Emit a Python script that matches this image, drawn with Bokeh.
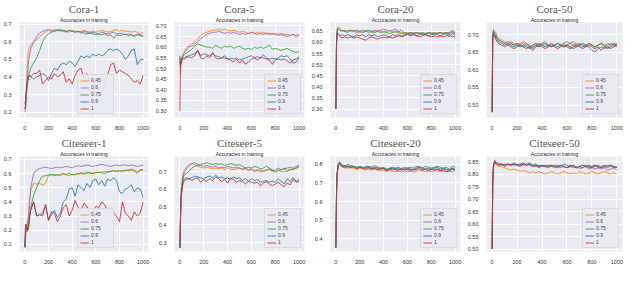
from bokeh.plotting import figure
from bokeh.layouts import gridplot
from bokeh.models import Range1d, Title, FixedTicker, PrintfTickFormatter
from bokeh.embed import file_html
from bokeh.resources import INLINE

EPOCHS = [0, 5, 10, 20, 30, 40, 50, 75, 100,
          125, 150, 175, 200, 225, 250, 275, 300, 325,
          350, 375, 400, 425, 450, 475, 500, 525, 550,
          575, 600, 625, 650, 675, 700, 725, 750, 775,
          800, 825, 850, 875, 900, 925, 950, 975, 1000]
RATES = ["0.45", "0.6", "0.75", "0.9", "1"]
X_TICKS = [0, 200, 400, 600, 800, 1000]

# ---------------- Cora-1 ----------------
cora1_045 = [0.21, 0.22, 0.30, 0.45, 0.55, 0.57, 0.585, 0.60, 0.61,
             0.63, 0.645, 0.655, 0.665, 0.66, 0.67, 0.665, 0.66, 0.665,
             0.66, 0.655, 0.665, 0.66, 0.655, 0.66, 0.665, 0.66, 0.655,
             0.66, 0.655, 0.66, 0.665, 0.66, 0.655, 0.66, 0.665, 0.67,
             0.66, 0.665, 0.66, 0.66, 0.655, 0.66, 0.655, 0.645, 0.655]
cora1_06 = [0.20, 0.21, 0.25, 0.38, 0.47, 0.53, 0.56, 0.60, 0.63,
            0.65, 0.66, 0.665, 0.67, 0.665, 0.66, 0.67, 0.665, 0.66,
            0.655, 0.665, 0.66, 0.655, 0.66, 0.65, 0.66, 0.655, 0.65,
            0.655, 0.65, 0.645, 0.655, 0.65, 0.645, 0.65, 0.655, 0.645,
            0.65, 0.645, 0.64, 0.645, 0.64, 0.635, 0.645, 0.64, 0.635]
cora1_075 = [0.22, 0.23, 0.28, 0.35, 0.40, 0.43, 0.45, 0.48, 0.51,
             0.55, 0.60, 0.63, 0.645, 0.655, 0.66, 0.665, 0.67, 0.665,
             0.66, 0.665, 0.66, 0.655, 0.66, 0.655, 0.65, 0.645, 0.65,
             0.645, 0.64, 0.645, 0.64, 0.645, 0.635, 0.64, 0.62, 0.64,
             0.635, 0.64, 0.645, 0.635, 0.64, 0.63, 0.64, 0.635, 0.63]
cora1_09 = [0.22, 0.24, 0.30, 0.36, 0.40, 0.41, 0.40, 0.39, 0.40,
            0.41, 0.42, 0.41, 0.38, 0.42, 0.45, 0.44, 0.47, 0.48,
            0.47, 0.49, 0.48, 0.46, 0.49, 0.52, 0.51, 0.52, 0.51,
            0.53, 0.52, 0.53, 0.52, 0.53, 0.55, 0.56, 0.55, 0.56,
            0.55, 0.53, 0.50, 0.52, 0.55, 0.56, 0.47, 0.50, 0.50]
cora1_1 = [0.26, 0.24, 0.30, 0.37, 0.40, 0.41, 0.40, 0.42, 0.42,
           0.44, 0.36, 0.38, 0.40, 0.39, 0.42, 0.40, 0.41, 0.43,
           0.37, 0.39, 0.36, 0.41, 0.44, 0.45, 0.39, 0.42, 0.37,
           0.38, 0.35, 0.33, 0.30, 0.36, 0.41, 0.47, 0.48, 0.42,
           0.44, 0.43, 0.42, 0.41, 0.39, 0.37, 0.38, 0.36, 0.41]
cora1_yticks = [0.2, 0.3, 0.4, 0.5, 0.6, 0.7]

# ---------------- Cora-5 ----------------
cora5_045 = [0.56, 0.47, 0.54, 0.56, 0.57, 0.58, 0.595, 0.605, 0.615,
             0.625, 0.64, 0.655, 0.665, 0.67, 0.675, 0.68, 0.68, 0.685,
             0.68, 0.685, 0.68, 0.675, 0.68, 0.675, 0.67, 0.675, 0.67,
             0.665, 0.67, 0.665, 0.67, 0.665, 0.67, 0.665, 0.665, 0.66,
             0.665, 0.66, 0.665, 0.66, 0.66, 0.655, 0.66, 0.645, 0.655]
cora5_06 = [0.56, 0.50, 0.53, 0.55, 0.565, 0.575, 0.585, 0.60, 0.605,
            0.615, 0.625, 0.64, 0.65, 0.66, 0.665, 0.67, 0.67, 0.675,
            0.67, 0.665, 0.67, 0.665, 0.67, 0.665, 0.66, 0.665, 0.66,
            0.665, 0.67, 0.665, 0.66, 0.665, 0.66, 0.665, 0.66, 0.665,
            0.66, 0.655, 0.66, 0.655, 0.65, 0.655, 0.66, 0.655, 0.66]
cora5_075 = [0.55, 0.52, 0.54, 0.555, 0.56, 0.565, 0.57, 0.58, 0.59,
             0.605, 0.615, 0.61, 0.605, 0.60, 0.60, 0.595, 0.61, 0.60,
             0.595, 0.605, 0.60, 0.605, 0.595, 0.60, 0.605, 0.595, 0.59,
             0.595, 0.59, 0.60, 0.595, 0.60, 0.595, 0.60, 0.61, 0.59,
             0.595, 0.59, 0.585, 0.59, 0.595, 0.585, 0.58, 0.575, 0.58]
cora5_09 = [0.53, 0.52, 0.54, 0.545, 0.55, 0.55, 0.555, 0.56, 0.565,
            0.57, 0.585, 0.56, 0.57, 0.565, 0.56, 0.57, 0.56, 0.555,
            0.55, 0.56, 0.545, 0.55, 0.545, 0.55, 0.54, 0.545, 0.55,
            0.555, 0.56, 0.55, 0.555, 0.55, 0.565, 0.55, 0.545, 0.55,
            0.545, 0.55, 0.56, 0.555, 0.56, 0.545, 0.525, 0.53, 0.55]
cora5_1 = [0.30, 0.53, 0.52, 0.54, 0.55, 0.545, 0.55, 0.555, 0.55,
           0.56, 0.585, 0.55, 0.545, 0.56, 0.55, 0.575, 0.55, 0.545,
           0.55, 0.55, 0.545, 0.54, 0.53, 0.545, 0.525, 0.54, 0.52,
           0.53, 0.545, 0.55, 0.54, 0.55, 0.55, 0.545, 0.54, 0.52,
           0.54, 0.545, 0.54, 0.545, 0.535, 0.525, 0.54, 0.545, 0.555]
cora5_yticks = [0.30, 0.35, 0.40, 0.45, 0.50, 0.55, 0.60, 0.65, 0.70]

# ---------------- Cora-20 ----------------
cora20_045 = [0.30, 0.60, 0.665, 0.67, 0.665, 0.66, 0.655, 0.65, 0.655,
              0.65, 0.655, 0.65, 0.645, 0.65, 0.655, 0.65, 0.645, 0.65,
              0.655, 0.65, 0.645, 0.65, 0.655, 0.65, 0.645, 0.65, 0.645,
              0.64, 0.645, 0.64, 0.645, 0.64, 0.645, 0.64, 0.635, 0.64,
              0.645, 0.64, 0.645, 0.64, 0.645, 0.64, 0.645, 0.65, 0.64]
cora20_06 = [0.30, 0.60, 0.66, 0.665, 0.66, 0.655, 0.65, 0.655, 0.65,
             0.655, 0.65, 0.645, 0.65, 0.655, 0.65, 0.645, 0.65, 0.655,
             0.65, 0.655, 0.66, 0.655, 0.65, 0.655, 0.66, 0.65, 0.655,
             0.645, 0.64, 0.645, 0.64, 0.645, 0.64, 0.635, 0.64, 0.645,
             0.64, 0.635, 0.64, 0.645, 0.64, 0.645, 0.64, 0.645, 0.64]
cora20_075 = [0.30, 0.59, 0.655, 0.66, 0.655, 0.65, 0.655, 0.65, 0.645,
              0.655, 0.65, 0.655, 0.65, 0.645, 0.65, 0.655, 0.65, 0.645,
              0.65, 0.645, 0.65, 0.645, 0.64, 0.645, 0.65, 0.645, 0.64,
              0.645, 0.64, 0.645, 0.64, 0.645, 0.64, 0.645, 0.64, 0.645,
              0.64, 0.645, 0.64, 0.645, 0.64, 0.645, 0.64, 0.655, 0.645]
cora20_09 = [0.30, 0.58, 0.645, 0.64, 0.635, 0.63, 0.635, 0.63, 0.635,
             0.63, 0.625, 0.635, 0.63, 0.635, 0.625, 0.635, 0.63, 0.635,
             0.625, 0.63, 0.635, 0.63, 0.625, 0.635, 0.63, 0.635, 0.63,
             0.635, 0.64, 0.635, 0.64, 0.63, 0.635, 0.64, 0.635, 0.63,
             0.635, 0.64, 0.635, 0.63, 0.635, 0.64, 0.625, 0.64, 0.635]
cora20_1 = [0.30, 0.58, 0.64, 0.635, 0.63, 0.625, 0.62, 0.625, 0.62,
            0.625, 0.62, 0.625, 0.62, 0.615, 0.61, 0.62, 0.625, 0.62,
            0.615, 0.62, 0.625, 0.62, 0.625, 0.62, 0.625, 0.63, 0.625,
            0.63, 0.635, 0.63, 0.635, 0.63, 0.625, 0.63, 0.635, 0.63,
            0.625, 0.63, 0.625, 0.63, 0.625, 0.63, 0.635, 0.625, 0.63]
cora20_yticks = [0.30, 0.35, 0.40, 0.45, 0.50, 0.55, 0.60, 0.65]

# ---------------- Cora-50 ----------------
cora50_045 = [0.48, 0.70, 0.715, 0.71, 0.705, 0.695, 0.69, 0.685, 0.68,
              0.675, 0.68, 0.675, 0.67, 0.675, 0.68, 0.675, 0.665, 0.67,
              0.675, 0.67, 0.675, 0.67, 0.665, 0.675, 0.67, 0.675, 0.67,
              0.675, 0.67, 0.665, 0.67, 0.675, 0.67, 0.675, 0.67, 0.675,
              0.67, 0.665, 0.67, 0.675, 0.67, 0.675, 0.67, 0.675, 0.67]
cora50_06 = [0.48, 0.70, 0.71, 0.705, 0.70, 0.69, 0.685, 0.68, 0.675,
             0.68, 0.675, 0.67, 0.675, 0.67, 0.675, 0.67, 0.665, 0.67,
             0.675, 0.67, 0.675, 0.68, 0.67, 0.675, 0.67, 0.675, 0.67,
             0.675, 0.68, 0.675, 0.67, 0.665, 0.67, 0.675, 0.67, 0.675,
             0.67, 0.665, 0.67, 0.675, 0.67, 0.665, 0.67, 0.675, 0.67]
cora50_075 = [0.48, 0.69, 0.71, 0.70, 0.695, 0.69, 0.685, 0.68, 0.675,
              0.67, 0.675, 0.67, 0.675, 0.67, 0.665, 0.675, 0.67, 0.66,
              0.67, 0.675, 0.67, 0.675, 0.67, 0.665, 0.67, 0.675, 0.67,
              0.665, 0.67, 0.675, 0.68, 0.67, 0.675, 0.67, 0.665, 0.675,
              0.67, 0.665, 0.67, 0.675, 0.665, 0.67, 0.675, 0.67, 0.675]
cora50_09 = [0.48, 0.69, 0.705, 0.70, 0.69, 0.685, 0.68, 0.675, 0.67,
             0.675, 0.67, 0.665, 0.67, 0.665, 0.67, 0.665, 0.66, 0.665,
             0.67, 0.665, 0.67, 0.665, 0.67, 0.665, 0.67, 0.665, 0.67,
             0.665, 0.67, 0.665, 0.66, 0.665, 0.67, 0.665, 0.67, 0.665,
             0.655, 0.65, 0.66, 0.665, 0.66, 0.665, 0.66, 0.665, 0.67]
cora50_1 = [0.48, 0.69, 0.70, 0.695, 0.685, 0.68, 0.675, 0.67, 0.665,
            0.67, 0.665, 0.66, 0.665, 0.67, 0.665, 0.66, 0.665, 0.655,
            0.665, 0.67, 0.665, 0.66, 0.665, 0.67, 0.665, 0.66, 0.665,
            0.67, 0.665, 0.66, 0.665, 0.67, 0.665, 0.66, 0.665, 0.67,
            0.665, 0.66, 0.665, 0.655, 0.665, 0.66, 0.665, 0.67, 0.665]
cora50_yticks = [0.50, 0.55, 0.60, 0.65, 0.70]

# ---------------- Citeseer-1 ----------------
cite1_045 = [0.08, 0.15, 0.24, 0.20, 0.30, 0.42, 0.48, 0.53, 0.525,
             0.53, 0.52, 0.53, 0.585, 0.59, 0.585, 0.59, 0.585, 0.595,
             0.59, 0.585, 0.595, 0.59, 0.595, 0.60, 0.595, 0.60, 0.605,
             0.60, 0.61, 0.605, 0.61, 0.615, 0.61, 0.615, 0.62, 0.615,
             0.62, 0.62, 0.625, 0.62, 0.625, 0.62, 0.615, 0.625, 0.62]
cite1_06 = [0.08, 0.12, 0.22, 0.24, 0.28, 0.38, 0.50, 0.60, 0.625,
            0.635, 0.64, 0.645, 0.64, 0.635, 0.64, 0.645, 0.64, 0.645,
            0.65, 0.645, 0.64, 0.65, 0.655, 0.65, 0.655, 0.66, 0.655,
            0.65, 0.655, 0.66, 0.665, 0.66, 0.655, 0.65, 0.655, 0.66,
            0.655, 0.66, 0.66, 0.655, 0.66, 0.655, 0.65, 0.655, 0.66]
cite1_075 = [0.08, 0.14, 0.20, 0.19, 0.20, 0.28, 0.36, 0.45, 0.50,
             0.55, 0.58, 0.585, 0.59, 0.595, 0.59, 0.59, 0.595, 0.60,
             0.595, 0.60, 0.59, 0.595, 0.60, 0.605, 0.60, 0.61, 0.605,
             0.60, 0.605, 0.61, 0.605, 0.60, 0.61, 0.615, 0.62, 0.615,
             0.62, 0.615, 0.62, 0.625, 0.63, 0.62, 0.60, 0.625, 0.63]
cite1_09 = [0.08, 0.20, 0.24, 0.20, 0.22, 0.30, 0.35, 0.40, 0.30,
            0.31, 0.32, 0.38, 0.27, 0.31, 0.34, 0.29, 0.32, 0.40,
            0.42, 0.49, 0.50, 0.44, 0.52, 0.50, 0.48, 0.53, 0.50,
            0.55, 0.56, 0.52, 0.55, 0.51, 0.56, 0.55, 0.57, 0.55,
            0.47, 0.46, 0.49, 0.50, 0.52, 0.47, 0.50, 0.49, 0.43]
cite1_1 = [0.08, 0.22, 0.24, 0.20, 0.23, 0.29, 0.34, 0.40, 0.30,
           0.31, 0.30, 0.38, 0.27, 0.33, 0.32, 0.26, 0.30, 0.36,
           0.38, 0.30, 0.34, 0.41, 0.36, 0.34, 0.39, 0.37, 0.31,
           0.33, 0.37, 0.36, 0.40, 0.38, 0.33, 0.35, 0.32, 0.30,
           0.26, 0.40, 0.32, 0.30, 0.27, 0.33, 0.30, 0.32, 0.40]
cite1_yticks = [0.1, 0.2, 0.3, 0.4, 0.5, 0.6, 0.7]

# ---------------- Citeseer-5 ----------------
cite5_045 = [0.27, 0.45, 0.58, 0.66, 0.70, 0.71, 0.72, 0.74, 0.745,
             0.74, 0.73, 0.725, 0.72, 0.725, 0.72, 0.715, 0.72, 0.715,
             0.72, 0.71, 0.72, 0.715, 0.71, 0.715, 0.72, 0.71, 0.715,
             0.705, 0.71, 0.70, 0.705, 0.71, 0.70, 0.705, 0.71, 0.70,
             0.705, 0.71, 0.70, 0.70, 0.705, 0.715, 0.71, 0.72, 0.725]
cite5_06 = [0.27, 0.44, 0.57, 0.64, 0.68, 0.70, 0.71, 0.73, 0.745,
            0.75, 0.74, 0.735, 0.73, 0.735, 0.73, 0.725, 0.73, 0.72,
            0.725, 0.72, 0.73, 0.725, 0.72, 0.725, 0.72, 0.715, 0.72,
            0.71, 0.715, 0.705, 0.71, 0.70, 0.705, 0.71, 0.715, 0.705,
            0.71, 0.72, 0.71, 0.715, 0.72, 0.725, 0.72, 0.73, 0.735]
cite5_075 = [0.27, 0.43, 0.55, 0.63, 0.67, 0.68, 0.69, 0.70, 0.72,
             0.73, 0.735, 0.74, 0.745, 0.75, 0.745, 0.74, 0.745, 0.74,
             0.745, 0.735, 0.74, 0.745, 0.74, 0.735, 0.74, 0.73, 0.72,
             0.725, 0.72, 0.73, 0.725, 0.715, 0.72, 0.73, 0.72, 0.71,
             0.695, 0.705, 0.71, 0.72, 0.70, 0.71, 0.715, 0.72, 0.73]
cite5_09 = [0.27, 0.42, 0.55, 0.62, 0.65, 0.66, 0.665, 0.66, 0.665,
            0.675, 0.67, 0.665, 0.66, 0.67, 0.675, 0.665, 0.68, 0.665,
            0.67, 0.66, 0.665, 0.655, 0.67, 0.66, 0.665, 0.65, 0.66,
            0.645, 0.66, 0.65, 0.655, 0.64, 0.645, 0.65, 0.64, 0.645,
            0.64, 0.66, 0.645, 0.63, 0.66, 0.645, 0.665, 0.645, 0.655]
cite5_1 = [0.27, 0.42, 0.55, 0.61, 0.64, 0.65, 0.655, 0.66, 0.65,
           0.66, 0.665, 0.64, 0.655, 0.645, 0.66, 0.65, 0.67, 0.66,
           0.645, 0.655, 0.635, 0.665, 0.655, 0.64, 0.65, 0.645, 0.63,
           0.645, 0.64, 0.635, 0.64, 0.62, 0.635, 0.645, 0.63, 0.62,
           0.63, 0.64, 0.625, 0.615, 0.635, 0.625, 0.655, 0.64, 0.645]
cite5_yticks = [0.3, 0.4, 0.5, 0.6, 0.7]

# ---------------- Citeseer-20 ----------------
cite20_045 = [0.35, 0.62, 0.74, 0.79, 0.80, 0.795, 0.79, 0.785, 0.78,
              0.785, 0.78, 0.775, 0.78, 0.775, 0.77, 0.775, 0.77, 0.775,
              0.77, 0.765, 0.77, 0.765, 0.77, 0.765, 0.76, 0.765, 0.76,
              0.765, 0.76, 0.765, 0.76, 0.765, 0.77, 0.765, 0.76, 0.765,
              0.76, 0.765, 0.77, 0.76, 0.765, 0.76, 0.765, 0.76, 0.765]
cite20_06 = [0.35, 0.63, 0.75, 0.80, 0.81, 0.80, 0.795, 0.79, 0.785,
             0.79, 0.785, 0.78, 0.785, 0.78, 0.785, 0.78, 0.775, 0.78,
             0.775, 0.78, 0.775, 0.77, 0.775, 0.78, 0.77, 0.775, 0.77,
             0.775, 0.77, 0.775, 0.77, 0.78, 0.775, 0.77, 0.775, 0.77,
             0.775, 0.77, 0.775, 0.77, 0.775, 0.77, 0.765, 0.775, 0.77]
cite20_075 = [0.35, 0.63, 0.75, 0.80, 0.815, 0.805, 0.80, 0.79, 0.80,
              0.795, 0.79, 0.785, 0.79, 0.785, 0.78, 0.79, 0.785, 0.795,
              0.785, 0.78, 0.785, 0.775, 0.78, 0.785, 0.78, 0.785, 0.775,
              0.785, 0.78, 0.785, 0.78, 0.79, 0.785, 0.78, 0.79, 0.785,
              0.78, 0.785, 0.79, 0.785, 0.78, 0.785, 0.775, 0.79, 0.785]
cite20_09 = [0.35, 0.63, 0.75, 0.80, 0.81, 0.80, 0.79, 0.795, 0.79,
             0.785, 0.79, 0.78, 0.785, 0.78, 0.79, 0.785, 0.78, 0.785,
             0.78, 0.775, 0.78, 0.77, 0.775, 0.78, 0.775, 0.78, 0.77,
             0.775, 0.78, 0.775, 0.77, 0.78, 0.79, 0.78, 0.775, 0.78,
             0.775, 0.78, 0.785, 0.775, 0.78, 0.775, 0.77, 0.78, 0.775]
cite20_1 = [0.35, 0.62, 0.74, 0.79, 0.805, 0.80, 0.79, 0.78, 0.795,
            0.78, 0.79, 0.775, 0.785, 0.78, 0.775, 0.785, 0.775, 0.78,
            0.77, 0.775, 0.78, 0.765, 0.775, 0.77, 0.775, 0.765, 0.78,
            0.77, 0.775, 0.765, 0.775, 0.77, 0.785, 0.77, 0.775, 0.765,
            0.775, 0.77, 0.775, 0.765, 0.77, 0.76, 0.765, 0.775, 0.77]
cite20_yticks = [0.4, 0.5, 0.6, 0.7, 0.8]

# ---------------- Citeseer-50 ----------------
cite50_045 = [0.50, 0.76, 0.82, 0.845, 0.84, 0.835, 0.83, 0.83, 0.825,
              0.82, 0.815, 0.82, 0.815, 0.81, 0.815, 0.81, 0.805, 0.81,
              0.805, 0.81, 0.805, 0.80, 0.805, 0.81, 0.805, 0.80, 0.805,
              0.81, 0.805, 0.80, 0.805, 0.80, 0.81, 0.805, 0.80, 0.805,
              0.81, 0.805, 0.80, 0.805, 0.81, 0.805, 0.80, 0.805, 0.80]
cite50_06 = [0.50, 0.77, 0.83, 0.85, 0.845, 0.84, 0.845, 0.84, 0.835,
             0.84, 0.835, 0.84, 0.835, 0.84, 0.835, 0.84, 0.835, 0.83,
             0.835, 0.83, 0.835, 0.83, 0.835, 0.83, 0.825, 0.83, 0.825,
             0.83, 0.825, 0.83, 0.825, 0.83, 0.82, 0.825, 0.83, 0.82,
             0.825, 0.82, 0.825, 0.82, 0.825, 0.815, 0.82, 0.825, 0.815]
cite50_075 = [0.50, 0.77, 0.83, 0.85, 0.845, 0.84, 0.835, 0.84, 0.835,
              0.84, 0.835, 0.84, 0.835, 0.84, 0.845, 0.835, 0.84, 0.835,
              0.84, 0.83, 0.835, 0.83, 0.835, 0.83, 0.835, 0.83, 0.835,
              0.83, 0.825, 0.835, 0.83, 0.825, 0.83, 0.835, 0.83, 0.825,
              0.83, 0.835, 0.83, 0.825, 0.83, 0.835, 0.83, 0.825, 0.83]
cite50_09 = [0.50, 0.77, 0.83, 0.85, 0.84, 0.845, 0.84, 0.835, 0.84,
             0.835, 0.84, 0.835, 0.84, 0.835, 0.84, 0.835, 0.84, 0.835,
             0.83, 0.835, 0.83, 0.835, 0.83, 0.835, 0.83, 0.835, 0.83,
             0.84, 0.835, 0.83, 0.835, 0.825, 0.83, 0.835, 0.83, 0.835,
             0.83, 0.835, 0.825, 0.83, 0.835, 0.83, 0.835, 0.83, 0.825]
cite50_1 = [0.50, 0.76, 0.83, 0.855, 0.845, 0.84, 0.835, 0.84, 0.83,
            0.84, 0.835, 0.845, 0.835, 0.83, 0.84, 0.835, 0.845, 0.83,
            0.835, 0.825, 0.835, 0.83, 0.825, 0.835, 0.83, 0.825, 0.835,
            0.83, 0.825, 0.83, 0.835, 0.825, 0.83, 0.825, 0.835, 0.83,
            0.825, 0.83, 0.835, 0.825, 0.83, 0.825, 0.835, 0.83, 0.825]
cite50_yticks = [0.50, 0.55, 0.60, 0.65, 0.70, 0.75, 0.80, 0.85]

# ---------------- styling ----------------
COLORS = ["#ff7f0e", "#9467bd", "#2ca02c", "#1f77b4", "#d62728"]
BG = "#eaeaf2"


def make_panel(title, series, yticks, yfmt, yrange, legend_loc, width, height,
               mbl, mbr, mbt, mbb):
    p = figure(width=width, height=height, title=None,
               output_backend="svg", toolbar_location=None,
               x_range=Range1d(-45, 1045), y_range=Range1d(*yrange),
               min_border_left=mbl, min_border_right=mbr,
               min_border_top=mbt, min_border_bottom=mbb)
    p.background_fill_color = BG
    p.border_fill_color = "white"
    p.outline_line_color = None
    p.grid.grid_line_color = "white"
    p.grid.grid_line_width = 1
    p.xaxis.ticker = FixedTicker(ticks=X_TICKS)
    p.yaxis.ticker = FixedTicker(ticks=yticks)
    p.yaxis.formatter = PrintfTickFormatter(format=yfmt)
    for ax in (p.xaxis, p.yaxis):
        ax.axis_line_color = None
        ax.major_tick_line_color = None
        ax.minor_tick_line_color = None
        ax.major_label_text_font_size = "5.5px"
        ax.major_label_text_color = "#333333"
        ax.major_label_text_font = "Liberation Sans"
        ax.major_label_standoff = 2

    for ys, lab, col in zip(series, RATES, COLORS):
        n = min(len(EPOCHS), len(ys))
        p.line(EPOCHS[:n], ys[:n], line_color=col, line_width=1,
               line_alpha=0.85, legend_label=lab)

    lg = p.legend[0]
    lg.location = legend_loc
    lg.label_text_font_size = "5px"
    lg.label_text_font = "Liberation Sans"
    lg.label_height = 5
    lg.glyph_height = 5
    lg.glyph_width = 9
    lg.label_standoff = 2
    lg.spacing = 1
    lg.padding = 2
    lg.margin = 3
    lg.background_fill_color = BG
    lg.background_fill_alpha = 0.9
    lg.border_line_color = "#cccccc"
    lg.border_line_width = 1

    p.add_layout(Title(text="Accuracies in training", align="center",
                       text_font_size="5px", text_font="Liberation Sans",
                       text_font_style="normal", standoff=0, offset=0,
                       text_color="#222222"), "above")
    p.add_layout(Title(text=title, align="center", text_font_size="11px",
                       text_font="Liberation Serif", text_font_style="normal",
                       standoff=0, offset=0, text_color="#555555"), "above")
    return p


WIDTHS = [152, 156, 156, 160]
LEFTS = [12, 15, 15, 17]
RIGHTS = [4, 4, 4, 2]

row1_specs = [
    ("Cora-1", [cora1_045, cora1_06, cora1_075, cora1_09, cora1_1], cora1_yticks, "%.1f", (0.17, 0.71), (58, 3)),
    ("Cora-5", [cora5_045, cora5_06, cora5_075, cora5_09, cora5_1], cora5_yticks, "%.2f", (0.27, 0.716), "bottom_right"),
    ("Cora-20", [cora20_045, cora20_06, cora20_075, cora20_09, cora20_1], cora20_yticks, "%.2f", (0.262, 0.69), "bottom_right"),
    ("Cora-50", [cora50_045, cora50_06, cora50_075, cora50_09, cora50_1], cora50_yticks, "%.2f", (0.465, 0.734), "bottom_right"),
]
row2_specs = [
    ("Citeseer-1", [cite1_045, cite1_06, cite1_075, cite1_09, cite1_1], cite1_yticks, "%.1f", (0.05, 0.72), (58, 3)),
    ("Citeseer-5", [cite5_045, cite5_06, cite5_075, cite5_09, cite5_1], cite5_yticks, "%.1f", (0.25, 0.785), "bottom_right"),
    ("Citeseer-20", [cite20_045, cite20_06, cite20_075, cite20_09, cite20_1], cite20_yticks, "%.1f", (0.33, 0.843), "bottom_right"),
    ("Citeseer-50", [cite50_045, cite50_06, cite50_075, cite50_09, cite50_1], cite50_yticks, "%.2f", (0.49, 0.87), "bottom_right"),
]

row1 = [make_panel(t, s, yt, yf, yr, ll, WIDTHS[i], 133, LEFTS[i], RIGHTS[i], 0, 16)
        for i, (t, s, yt, yf, yr, ll) in enumerate(row1_specs)]
row2 = [make_panel(t, s, yt, yf, yr, ll, WIDTHS[i], 133, LEFTS[i], RIGHTS[i], 23, 0)
        for i, (t, s, yt, yf, yr, ll) in enumerate(row2_specs)]

grid = gridplot([row1, row2], toolbar_location=None)

open("out.html", "w").write(file_html(grid, INLINE))
